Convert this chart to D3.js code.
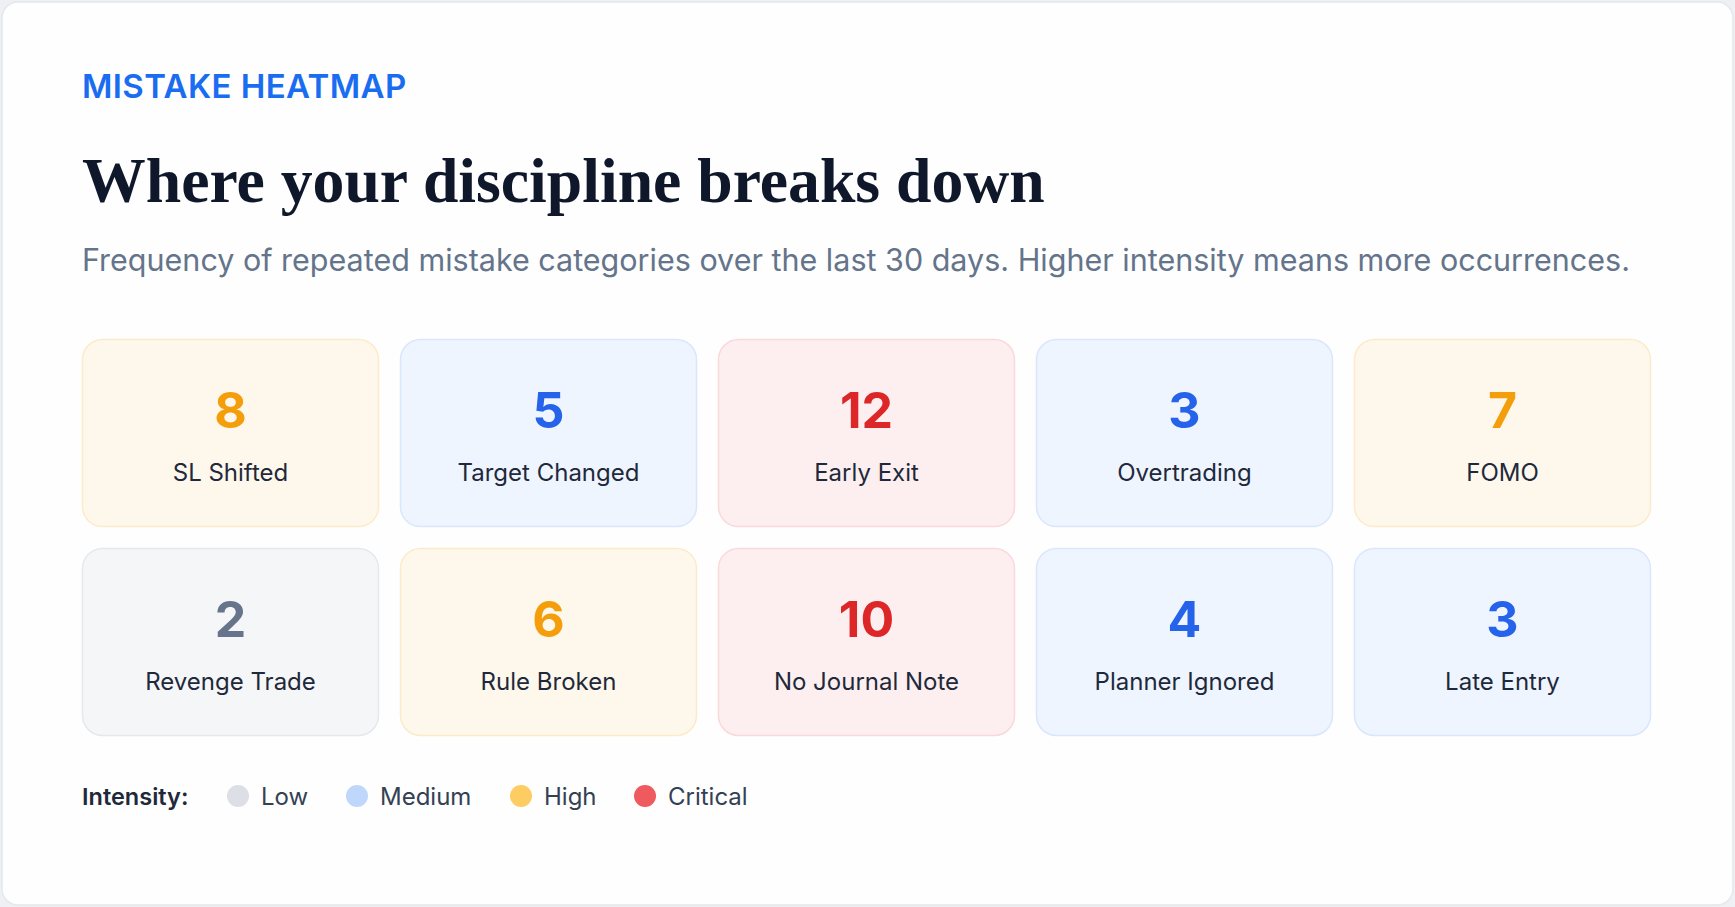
<!DOCTYPE html>
<html>
<head>
<meta charset="utf-8">
<script src="https://cdn.jsdelivr.net/npm/d3@7"></script>
<style>
  html, body { margin: 0; padding: 0; background: #eef0f4; }
  svg { display: block; }
</style>
</head>
<body>
<svg id="chart" width="1735" height="907"></svg>
<script>
// ---- Data ----
const categories = ["SL Shifted", "Target Changed", "Early Exit", "Overtrading", "FOMO",
                    "Revenge Trade", "Rule Broken", "No Journal Note", "Planner Ignored", "Late Entry"];
const counts = [8, 5, 12, 3, 7, 2, 6, 10, 4, 3];
const levels = ["Low", "Medium", "High", "Critical"];
const levelThresholds = [3, 6, 10];

const eyebrow = "MISTAKE HEATMAP";
const title = "Where your discipline breaks down";
const subtitle = "Frequency of repeated mistake categories over the last 30 days. Higher intensity means more occurrences.";
const legendTitle = "Intensity:";

// ---- Styles ----
const numColor   = {Low: "#66758c", Medium: "#2563eb", High: "#f59e0b", Critical: "#dc2628"};
const fillColor  = {Low: "#f5f6f8", Medium: "#eff5ff", High: "#fef8ec", Critical: "#fdeff0"};
const strokeColor= {Low: "#e5e8ec", Medium: "#d9e6fb", High: "#fcebc9", Critical: "#fad8db"};
const dotColor   = {Low: "#dcdfe5", Medium: "#c0d7fc", High: "#fdcd63", Critical: "#ef5a5f"};

const W = 1735, H = 907;
const svg = d3.select("#chart");
const sans = "Inter, 'Noto Sans', sans-serif";

// outer card
svg.append("rect").attr("x", 2).attr("y", 2).attr("width", W - 4).attr("height", H - 4)
  .attr("rx", 16).attr("fill", "#fefefe").attr("stroke", "#e4e7eb").attr("stroke-width", 1.5);

function fitText(sel, targetW) {
  const w = sel.node().getComputedTextLength();
  const fs = parseFloat(sel.attr("font-size"));
  sel.attr("font-size", fs * targetW / w);
}

svg.append("text").attr("x", 82).attr("y", 98)
  .attr("font-family", sans).attr("font-weight", 600).attr("font-size", 33)
  .attr("letter-spacing", 0.4).attr("fill", "#1a6cf0").text(eyebrow);

const tt = svg.append("text").attr("x", 82).attr("y", 202)
  .attr("font-family", "'Liberation Serif', 'Times New Roman', serif").attr("font-weight", 700)
  .attr("font-size", 64).attr("fill", "#0f172a").text(title);
fitText(tt, 963);

const st = svg.append("text").attr("x", 82).attr("y", 271)
  .attr("font-family", sans).attr("font-weight", 400).attr("font-size", 28)
  .attr("fill", "#64748b").text(subtitle);
fitText(st, 1548);

// ---- Grid ----
const nCols = 5;
const cells = categories.map((c, i) => ({name: c, value: counts[i], col: i % nCols, row: Math.floor(i / nCols)}));
const level = d3.scaleThreshold().domain(levelThresholds).range(levels);

const x = d3.scaleBand().domain(d3.range(nCols)).range([82, 1651]).paddingInner(0.066).paddingOuter(0);
const y = d3.scaleBand().domain(d3.range(2)).range([339, 736]).paddingInner(0.1).paddingOuter(0);

const g = svg.append("g").selectAll("g").data(cells).join("g")
  .attr("transform", d => `translate(${x(d.col)},${y(d.row)})`);

g.append("rect").attr("x", 0.5).attr("y", 0.5)
  .attr("width", x.bandwidth() - 1).attr("height", y.bandwidth() - 1)
  .attr("rx", 20)
  .attr("fill", d => fillColor[level(d.value)])
  .attr("stroke", d => strokeColor[level(d.value)]).attr("stroke-width", 1.5);

g.append("text").attr("x", x.bandwidth() / 2).attr("y", 89)
  .attr("text-anchor", "middle").attr("font-family", sans).attr("font-weight", 700)
  .attr("font-size", 50).attr("fill", d => numColor[level(d.value)])
  .text(d => d.value);

g.append("text").attr("x", x.bandwidth() / 2).attr("y", 142)
  .attr("text-anchor", "middle").attr("font-family", sans).attr("font-weight", 400)
  .attr("font-size", 24).attr("fill", "#1e293b")
  .text(d => d.name);

// ---- Legend ----
const lg = svg.append("g");
lg.append("text").attr("x", 82).attr("y", 805)
  .attr("font-family", sans).attr("font-weight", 600).attr("font-size", 23.5)
  .attr("fill", "#1e293b").text(legendTitle);

const legendX = [238, 357, 521, 645];
const items = lg.selectAll("g.item").data(levels).join("g").attr("class", "item")
  .attr("transform", (d, i) => `translate(${legendX[i]},796)`);
items.append("circle").attr("r", 11).attr("fill", d => dotColor[d]);
items.append("text").attr("x", 23).attr("y", 9)
  .attr("font-family", sans).attr("font-size", 24).attr("fill", "#334155")
  .text(d => d);
</script>
</body>
</html>
